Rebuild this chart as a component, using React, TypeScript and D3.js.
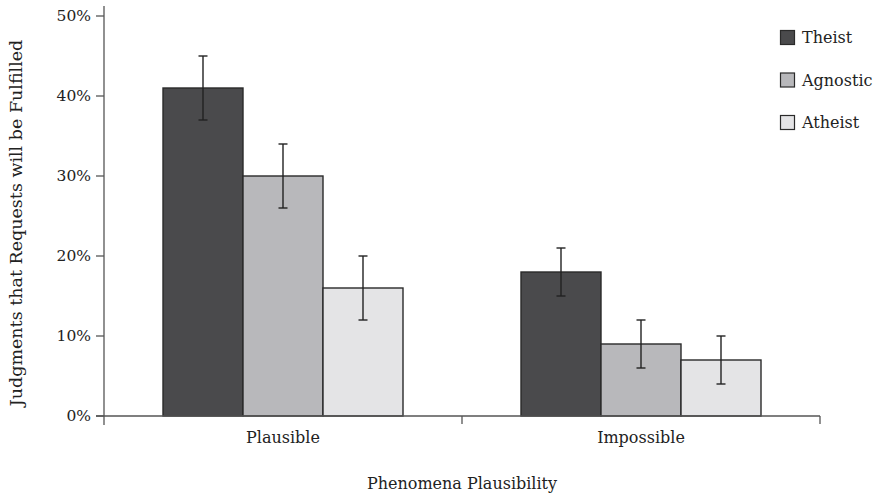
import React from "react";
import * as d3 from "d3";

const categories = ["Plausible", "Impossible"];
const series = ["Theist", "Agnostic", "Atheist"];
const values = [
  [41, 30, 16],
  [18, 9, 7],
];
const errLow = [
  [37, 26, 12],
  [15, 6, 4],
];
const errHigh = [
  [45, 34, 20],
  [21, 12, 10],
];
const yTicks = [0, 10, 20, 30, 40, 50];
const colors = ["#4a4a4c", "#b8b8bb", "#e4e4e6"];

export default function App() {
  const W = 877, H = 496;
  const x0 = d3.scaleBand().domain(categories).range([104, 820]).paddingInner(0).paddingOuter(0);
  const x1 = d3.scaleBand().domain(series).range([59, 358 - 59]).padding(0);
  const y = d3.scaleLinear().domain([0, 50]).range([416, 16]);
  const font = "'DejaVu Serif', serif";
  return (
    <svg width={W} height={H} style={{ position: "absolute", left: 0, top: 0, background: "#fff" }}>
      {/* bars */}
      {categories.map((c, i) => (
        <g key={c} transform={`translate(${x0(c)},0)`}>
          {series.map((s, j) => {
            const bx = x1(s)!;
            const bw = x1.bandwidth();
            const cx = bx + bw / 2;
            return (
              <g key={s}>
                <rect x={bx} y={y(values[i][j])} width={bw} height={y(0) - y(values[i][j])}
                  fill={colors[j]} stroke="#2a2a2a" strokeWidth={1.4} />
                <line x1={cx} x2={cx} y1={y(errLow[i][j])} y2={y(errHigh[i][j])} stroke="#222" strokeWidth={1.4} />
                <line x1={cx - 4.5} x2={cx + 4.5} y1={y(errLow[i][j])} y2={y(errLow[i][j])} stroke="#222" strokeWidth={1.4} />
                <line x1={cx - 4.5} x2={cx + 4.5} y1={y(errHigh[i][j])} y2={y(errHigh[i][j])} stroke="#222" strokeWidth={1.4} />
              </g>
            );
          })}
        </g>
      ))}
      {/* y axis */}
      <line x1={104} x2={104} y1={6} y2={425} stroke="#555" strokeWidth={1.3} />
      {yTicks.map((t) => (
        <g key={t}>
          <line x1={96} x2={104} y1={y(t)} y2={y(t)} stroke="#555" strokeWidth={1.3} />
          <text x={91} y={y(t)} dy="0.35em" textAnchor="end" fontFamily={font} fontSize={15.5} fill="#222">{t}%</text>
        </g>
      ))}
      {/* x axis */}
      <line x1={96} x2={820} y1={416} y2={416} stroke="#555" strokeWidth={1.3} />
      {[462, 820].map((v) => (
        <line key={v} x1={v} x2={v} y1={416} y2={424} stroke="#555" strokeWidth={1.3} />
      ))}
      {categories.map((c) => (
        <text key={c} x={x0(c)! + x0.bandwidth() / 2} y={443} textAnchor="middle" fontFamily={font} fontSize={16} fill="#222">{c}</text>
      ))}
      <text x={462} y={489} textAnchor="middle" fontFamily={font} fontSize={16} fill="#222">Phenomena Plausibility</text>
      <text transform="translate(22,223) rotate(-90)" textAnchor="middle" fontFamily={font} fontSize={17.5} fill="#222">Judgments that Requests will be Fulfilled</text>
      {/* legend */}
      {series.map((s, j) => (
        <g key={s} transform={`translate(780,${30 + j * 42.5})`}>
          <rect x={0.5} y={0.5} width={14} height={14} fill={colors[j]} stroke="#2a2a2a" strokeWidth={1.2} />
          <text x={22} y={7.5} dy="0.35em" fontFamily={font} fontSize={16} fill="#222">{s}</text>
        </g>
      ))}
    </svg>
  );
}
